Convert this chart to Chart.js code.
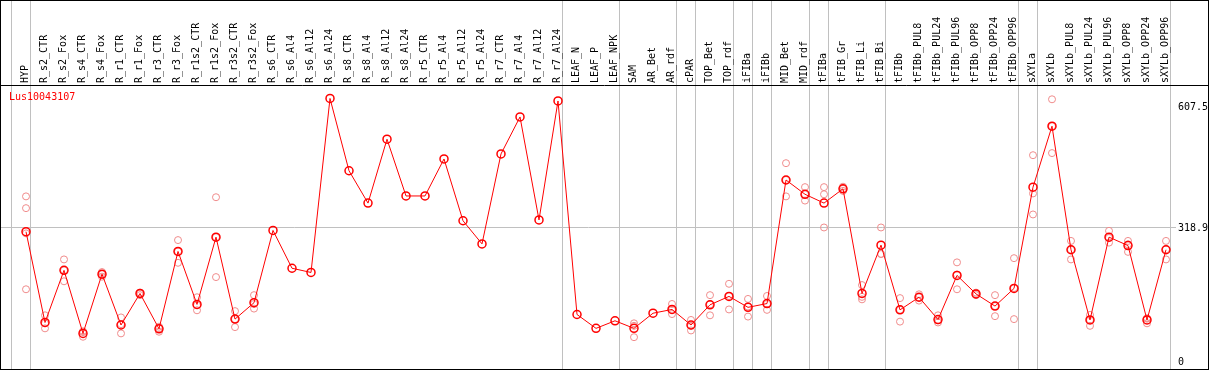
<!DOCTYPE html>
<html>
<head>
<meta charset="utf-8">
<script src="https://cdn.jsdelivr.net/npm/chart.js@4"></script>
<style>
  html, body { margin: 0; padding: 0; background: #fff; }
  #wrap { width: 1209px; height: 370px; position: relative; }
</style>
</head>
<body>
<div id="wrap"><canvas id="expr"></canvas></div>
<script>
// Lus10043107 expression profile across tissues / treatments

const samples = ["HYP","R_s2_CTR","R_s2_Fox","R_s4_CTR","R_s4_Fox","R_r1_CTR","R_r1_Fox","R_r3_CTR","R_r3_Fox",
  "R_r1s2_CTR","R_r1s2_Fox","R_r3s2_CTR","R_r3s2_Fox","R_s6_CTR","R_s6_Al4","R_s6_Al12","R_s6_Al24",
  "R_s8_CTR","R_s8_Al4","R_s8_Al12","R_s8_Al24","R_r5_CTR","R_r5_Al4","R_r5_Al12","R_r5_Al24",
  "R_r7_CTR","R_r7_Al4","R_r7_Al12","R_r7_Al24","LEAF_N","LEAF_P","LEAF_NPK","SAM","AR_Bet","AR_rdf",
  "cPAR","TOP_Bet","TOP_rdf","iFIBa","iFIBb","MID_Bet","MID_rdf","tFIBa","tFIB_Gr","tFIB_Li","tFIB_Bi",
  "tFIBb","tFIBb_PUL8","tFIBb_PUL24","tFIBb_PUL96","tFIBb_OPP8","tFIBb_OPP24","tFIBb_OPP96",
  "sXYLa","sXYLb","sXYLb_PUL8","sXYLb_PUL24","sXYLb_PUL96","sXYLb_OPP8","sXYLb_OPP24","sXYLb_OPP96"];

// mean expression
const means = [310, 94, 218, 68, 209, 88, 163, 79, 263,
  137, 297, 102, 141, 313, 223, 213, 627,
  455, 378, 530, 395, 395, 483, 336, 281,
  495, 583, 338, 621, 113, 80, 98, 80, 116, 125,
  88, 136, 156, 130, 139, 433, 399, 378, 412, 163, 278,
  124, 154, 101, 206, 162, 133, 175,
  416, 561, 267, 100, 297, 277, 100, 267];

// replicates (null = none shown)
const rep1 = [394, 111, 244, 71, 214, 106, 165, 84, 290,
  154, 392, 121, 159, null, null, null, null,
  null, null, null, null, null, null, null, null,
  null, null, null, null, null, null, null, 92, null, 138,
  100, 159, 186, 150, 157, 473, 416, 416, 417, 183, 320,
  152, 161, 111, 237, 165, 159, 247,
  492, 625, 288, 112, 312, 288, 104, 288];
const rep2 = [366, 80, 192, 60, 203, 68, 159, 72, 236,
  123, 202, 83, 127, null, null, null, null,
  null, null, null, null, null, null, null, null,
  null, null, null, null, null, null, null, 59, null, 114,
  75, 111, 125, 108, 124, 394, 384, 399, 407, 155, 257,
  96, 146, 94, 173, 159, 109, 102,
  401, 497, 244, 86, 284, 262, 92, 244];
const rep3 = [306, 92, 218, 73, 209, 90, 163, 80, 263,
  135, 297, 102, 138, null, null, null, null,
  null, null, null, null, null, null, null, null,
  null, null, null, null, null, null, null, 86, null, 124,
  86, 137, 157, 132, 138, 433, 399, 320, 412, 149, 257,
  124, 154, 99, 208, 162, 133, 176,
  351, 561, 267, 100, 295, 280, 103, 268];
const rep4 = [173];

// y axis labels and group separators (index of last sample in each group)
const yTicks = [0, 318.9, 607.5];
const groupEnds = [-1, 0, 28, 31, 34, 35, 37, 38, 39, 41, 42, 45, 52, 53, 60];

const geneName = "Lus10043107";

const MONO = "'DejaVu Sans Mono', monospace";
const GRID = "#c0c0c0";

function pts(arr) {
  const out = [];
  arr.forEach((v, i) => { if (v !== null && v !== undefined) out.push({ x: i, y: v }); });
  return out;
}

// gridlines, frame, sample names and y labels -- all placed through the scales
const frame = {
  id: "frame",
  beforeDatasetsDraw(chart) {
    const { ctx, scales: { x } } = chart;
    ctx.save();
    ctx.strokeStyle = GRID;
    ctx.lineWidth = 1;
    groupEnds.forEach(g => {
      const px = Math.round(x.getPixelForValue(g) + 4) + 0.5;
      ctx.beginPath();
      ctx.moveTo(px, 0);
      ctx.lineTo(px, chart.height);
      ctx.stroke();
    });
    ctx.restore();
  },
  afterDraw(chart) {
    const { ctx, chartArea, scales: { x, y } } = chart;
    ctx.save();
    ctx.strokeStyle = "#000";
    ctx.lineWidth = 1;
    ctx.strokeRect(0.5, 0.5, chart.width - 1, chart.height - 1);
    ctx.beginPath();
    ctx.moveTo(0, chartArea.top + 0.5);
    ctx.lineTo(chart.width, chartArea.top + 0.5);
    ctx.stroke();

    ctx.font = "10px " + MONO;
    ctx.fillStyle = "#000";
    ctx.textBaseline = "middle";

    // sample names, rotated, reading upward from the header line
    samples.forEach((name, i) => {
      ctx.save();
      ctx.translate(Math.round(x.getPixelForValue(i)) - 1, chartArea.top - 2);
      ctx.rotate(-Math.PI / 2);
      ctx.textAlign = "left";
      ctx.fillText(name, 0, 0);
      ctx.restore();
    });

    // y labels on the right
    ctx.textAlign = "left";
    yTicks.forEach(v => {
      ctx.fillText(String(v), chartArea.right + 2, Math.round(y.getPixelForValue(v)));
    });

    ctx.fillStyle = "#ff0000";
    ctx.fillText(geneName, 9, chartArea.top + 12);
    ctx.restore();
  }
};

const repStyle = {
  type: "scatter",
  showLine: false,
  pointRadius: 3.5,
  pointBorderWidth: 1,
  pointBorderColor: "rgba(240,140,140,1)",
  pointBackgroundColor: "rgba(0,0,0,0)",
  order: 2
};

new Chart(document.getElementById("expr"), {
  type: "line",
  data: {
    datasets: [
      {
        label: "mean",
        data: pts(means),
        borderColor: "#ff0000",
        borderWidth: 1,
        pointRadius: 4,
        pointBorderWidth: 1.5,
        pointBorderColor: "#ff0000",
        pointBackgroundColor: "rgba(0,0,0,0)",
        tension: 0,
        order: 0
      },
      Object.assign({ label: "r1", data: pts(rep1) }, repStyle),
      Object.assign({ label: "r2", data: pts(rep2) }, repStyle),
      Object.assign({ label: "r3", data: pts(rep3) }, repStyle),
      Object.assign({ label: "r4", data: pts(rep4) }, repStyle)
    ]
  },
  options: {
    responsive: true,
    maintainAspectRatio: false,
    animation: false,
    layout: { autoPadding: false, padding: { left: 1, right: 1, top: 0, bottom: 1 } },
    plugins: { legend: { display: false }, tooltip: { enabled: false } },
    scales: {
      x: {
        type: "linear",
        position: "top",
        min: -1.316,
        max: 60.526,
        afterFit(scale) { scale.height = 85; },
        grid: { display: false, drawTicks: false },
        border: { display: false },
        ticks: { display: false }
      },
      y: {
        position: "right",
        min: -16.7,
        max: 659,
        afterBuildTicks(scale) { scale.ticks = yTicks.map(v => ({ value: v })); },
        afterFit(scale) { scale.width = 32; },
        grid: {
          drawTicks: false,
          color: c => (c.tick && c.tick.value === 318.9 ? GRID : "rgba(0,0,0,0)")
        },
        border: { display: false },
        ticks: { display: false }
      }
    }
  },
  plugins: [frame]
});
</script>
</body>
</html>
